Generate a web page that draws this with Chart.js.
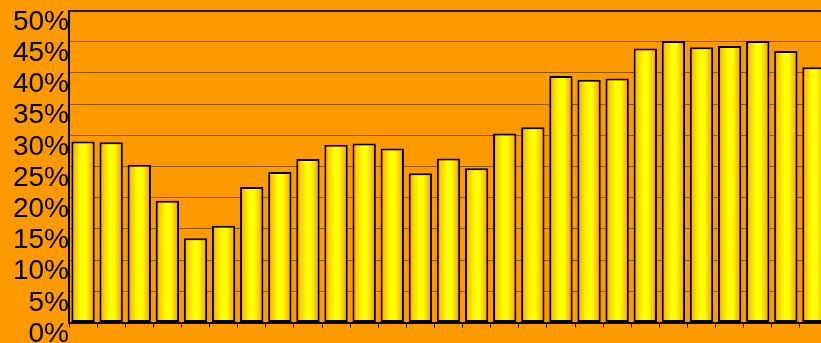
<!DOCTYPE html>
<html lang="en">
    <head>
        <script src="https://cdn.jsdelivr.net/npm/chart.js@4.4.0/dist/chart.umd.min.js"></script>
        <meta charset="UTF-8"/>
        <title>Percent bars</title>
        <style>
            html, body { margin: 0; padding: 0; background: #ff9900; overflow: hidden; }
            #wrap { width: 828px; height: 343px; }
        </style>
    </head>
    <body>
        <div id="wrap"><canvas id="chart"></canvas></div>

        <script>
            const labels = ['1','2','3','4','5','6','7','8','9','10','11','12','13','14',
                            '15','16','17','18','19','20','21','22','23','24','25','26','27'];
            const values = [29.0, 28.9, 25.3, 19.5, 13.5, 15.5, 21.7, 24.1, 26.2, 28.5, 28.7, 27.9, 23.9, 26.3,
                            24.7, 30.3, 31.3, 39.5, 38.9, 39.1, 43.9, 45.1, 44.1, 44.3, 45.1, 43.5, 40.9];
            const yMax = 50;
            const yStep = 5;

            const barPct = 0.83;

            function barFill(c) {
                const chart = c.chart;
                const xs = chart.scales.x;
                if (!xs || !chart.chartArea) return '#ffee00';
                const cx = xs.getPixelForValue(c.dataIndex);
                const w = xs.width / labels.length * barPct;
                const g = chart.ctx.createLinearGradient(cx - w / 2, 0, cx + w / 2, 0);
                g.addColorStop(0, '#e88a00');
                g.addColorStop(0.15, '#fbc800');
                g.addColorStop(0.42, '#ffff00');
                g.addColorStop(0.62, '#ffff00');
                g.addColorStop(0.88, '#f9b800');
                g.addColorStop(1, '#e07800');
                return g;
            }

            const ctx = document.getElementById('chart').getContext('2d');
            new Chart(ctx, {
                type: 'bar',
                data: {
                    labels: labels,
                    datasets: [{
                        data: values,
                        backgroundColor: barFill,
                        borderColor: '#000',
                        borderWidth: 2,
                        borderSkipped: false,
                        barPercentage: barPct,
                        categoryPercentage: 1
                    }]
                },
                options: {
                    responsive: true,
                    maintainAspectRatio: false,
                    animation: false,
                    layout: { padding: { top: 10.5, right: 0, bottom: 0, left: 0 } },
                    plugins: { legend: { display: false }, tooltip: { enabled: false } },
                    scales: {
                        x: {
                            ticks: { display: false },
                            grid: {
                                drawOnChartArea: false,
                                tickLength: 5,
                                color: '#000',
                                lineWidth: 1
                            },
                            border: { color: '#000', width: 2 },
                            afterFit: s => { s.height = 20.5; s.paddingLeft = 0; s.paddingRight = 0; }
                        },
                        y: {
                            min: 0,
                            max: yMax,
                            ticks: {
                                stepSize: yStep,
                                autoSkip: false,
                                color: '#000',
                                padding: 0,
                                labelOffset: 11.5,
                                font: { family: 'Liberation Sans, Arial, sans-serif', size: 28 },
                                callback: v => v + '%'
                            },
                            grid: {
                                drawTicks: false,
                                color: c => c.tick && c.tick.value === yMax ? '#2a1a00' : 'rgba(100,55,0,0.7)',
                                lineWidth: c => c.tick && c.tick.value === yMax ? 2 : 1
                            },
                            border: { color: '#000', width: 2 },
                            afterFit: s => { s.width = 69; s.paddingTop = 0; s.paddingBottom = 0; }
                        }
                    }
                }
            });
        </script>
    </body>
</html>
